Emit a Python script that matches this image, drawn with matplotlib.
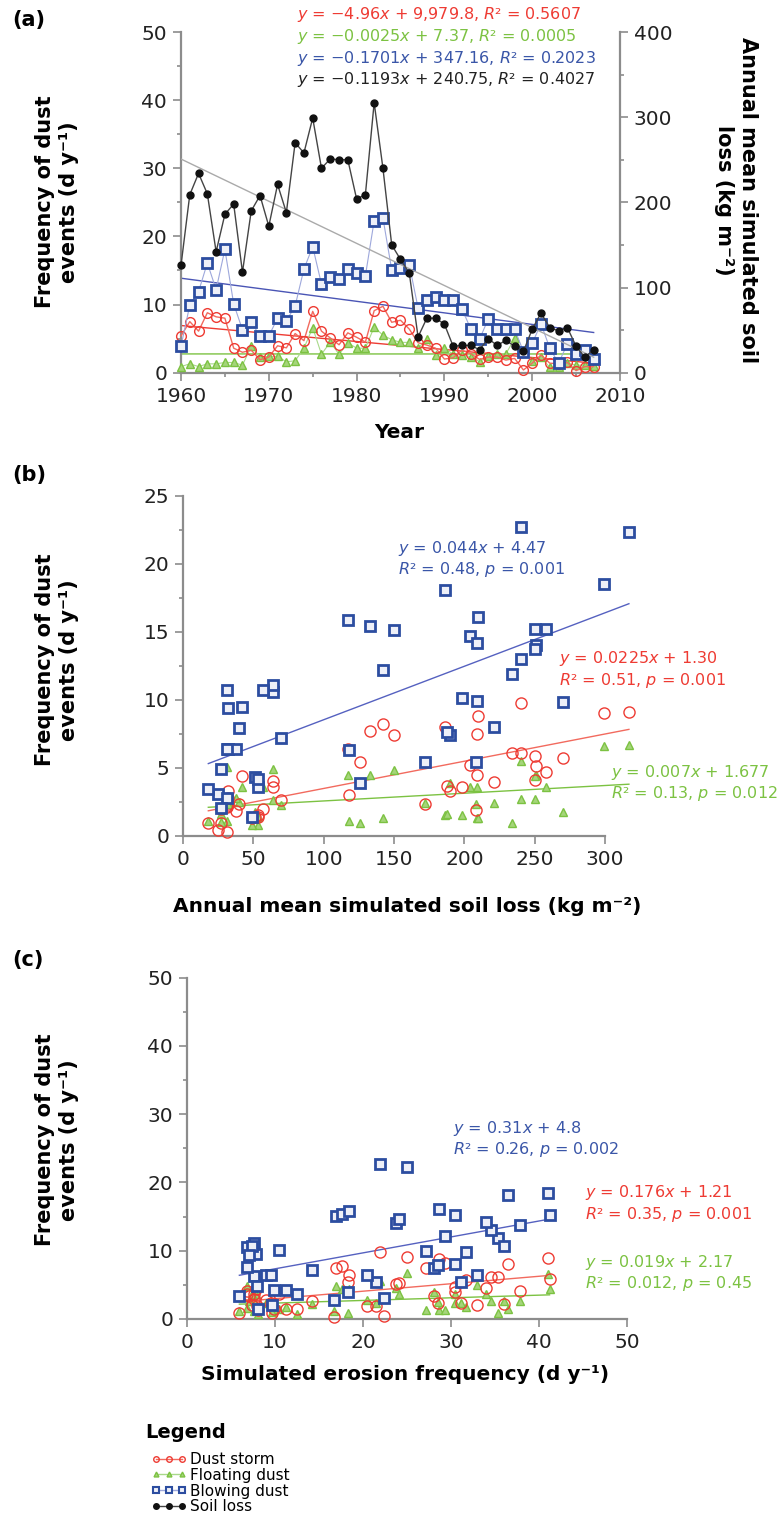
import numpy as np
import matplotlib
matplotlib.use("Agg")
import matplotlib.pyplot as plt
from matplotlib.lines import Line2D
from matplotlib.ticker import MultipleLocator

# ---------------- data ----------------
years = list(range(1960, 2008))
dust_storm = [5.4, 7.5, 6.1, 8.8, 8.2, 8.0, 3.6, 3.0, 3.3, 1.9, 2.3, 3.95, 3.65, 5.75, 4.7, 9.0,
              6.1, 5.1, 4.1, 5.85, 5.2, 4.5, 9.1, 9.75, 7.4, 7.7, 6.4, 4.4, 4.05, 3.6, 2.0, 2.2,
              3.3, 2.8, 1.95, 2.3, 2.3, 1.85, 2.1, 0.4, 1.4, 2.6, 1.4, 1.3, 1.5, 0.3, 0.9, 0.9]
floating_dust = [0.9, 1.3, 0.9, 1.3, 1.3, 1.5, 1.5, 1.1, 3.9, 2.3, 2.4, 2.4, 1.6, 1.75, 3.6, 6.6,
                 2.7, 4.5, 2.7, 4.4, 3.6, 3.6, 6.7, 5.5, 4.85, 4.45, 4.45, 3.6, 4.9, 2.6, 3.6, 2.7,
                 2.6, 2.35, 1.6, 2.5, 2.7, 2.75, 5.05, 3.1, 1.75, 2.25, 0.8, 0.8, 1.4, 1.1, 1.1, 1.0]
blowing_dust = [3.9, 9.9, 11.9, 16.1, 12.2, 18.1, 10.1, 6.3, 7.4, 5.4, 5.4, 8.0, 7.6, 9.8, 15.2, 18.5,
                13.0, 14.0, 13.7, 15.2, 14.7, 14.2, 22.3, 22.7, 15.1, 15.4, 15.85, 9.5, 10.6, 11.1, 10.7, 10.7,
                9.4, 6.4, 4.9, 7.9, 6.4, 6.4, 6.4, 3.1, 4.3, 7.2, 3.6, 1.4, 4.2, 2.8, 3.4, 2.05]
soil_loss = [126, 209, 234, 210, 142, 186, 198, 118, 190, 208, 172, 221, 188, 270, 258, 299,
             240, 251, 250, 250, 204, 209, 317, 240, 150, 133, 117, 42, 64, 64, 57, 31,
             32, 32, 27, 40, 32, 38, 31, 25, 51, 70, 53, 49, 53, 31, 18, 27]
erosion_freq = [18.3, 27.2, 35.3, 28.6, 29.3, 36.5, 10.4, 7.65, 28.1, 21.5, 31.1, 30.5, 6.8, 31.7, 30.4, 41.0,
                34.5, 23.8, 37.8, 41.2, 24.1, 34.0, 25.0, 21.9, 16.9, 17.6, 18.4, 7.85, 6.8, 7.6, 7.4, 36.0,
                7.1, 9.0, 8.0, 28.5, 9.5, 20.5, 33.0, 22.4, 11.2, 14.2, 12.5, 8.1, 9.9, 16.7, 5.95, 9.7]

series_names = ["Dust storm", "Floating dust", "Blowing dust", "Soil loss"]
eq_a = ["$y$ = \u22124.96$x$ + 9,979.8, $R$\u00b2 = 0.5607",
        "$y$ = \u22120.0025$x$ + 7.37, $R$\u00b2 = 0.0005",
        "$y$ = \u22120.1701$x$ + 347.16, $R$\u00b2 = 0.2023",
        "$y$ = \u22120.1193$x$ + 240.75, $R$\u00b2 = 0.4027"]
eq_b = [("$y$ = 0.044$x$ + 4.47", "$R$\u00b2 = 0.48, $p$ = 0.001"),
        ("$y$ = 0.0225$x$ + 1.30", "$R$\u00b2 = 0.51, $p$ = 0.001"),
        ("$y$ = 0.007$x$ + 1.677", "$R$\u00b2 = 0.13, $p$ = 0.012")]
eq_c = [("$y$ = 0.31$x$ + 4.8", "$R$\u00b2 = 0.26, $p$ = 0.002"),
        ("$y$ = 0.176$x$ + 1.21", "$R$\u00b2 = 0.35, $p$ = 0.001"),
        ("$y$ = 0.019$x$ + 2.17", "$R$\u00b2 = 0.012, $p$ = 0.45")]

# ---------------- style ----------------
plt.rcParams["font.family"] = ["DejaVu Sans"]
plt.rcParams["mathtext.fontset"] = "dejavusans"

RED = "#ee3b33"
RED_L = "#f26a5e"
GREEN = "#7cc242"
GREEN_L = "#a9d98a"
BLUE = "#2c4da0"
BLUE_L = "#9ea8dc"
BLUE_T = "#3a56a8"
BLACK = "#111111"
GRAY = "#8c8c8c"
TICK_FS = 14.5
LAB_FS = 15
XLAB_FS = 14.5
EQ_FS = 11.5

W, H = 781, 1520
fig = plt.figure(figsize=(W / 100, H / 100), dpi=100)


def ax_px(left, top, right, bottom):
    return fig.add_axes([left / W, 1 - bottom / H, (right - left) / W, (bottom - top) / H])


def fx(x):
    return x / W


def fy(y):
    return 1 - y / H


def style_axis(ax):
    for s in ["top", "right"]:
        ax.spines[s].set_visible(False)
    for s in ["left", "bottom"]:
        ax.spines[s].set_color(GRAY)
        ax.spines[s].set_linewidth(1.6)
    ax.tick_params(which="both", direction="out", color=GRAY, width=1.2, labelsize=TICK_FS,
                   labelcolor="#222222")
    ax.tick_params(which="major", length=6, pad=4)
    ax.tick_params(which="minor", length=3)


x_years = np.array(years, dtype=float)
ds = np.array(dust_storm)
fd = np.array(floating_dust)
bd = np.array(blowing_dust)
sl = np.array(soil_loss, dtype=float)
ef = np.array(erosion_freq)


def trend(ax, x, y, color, lw=1.0, z=2):
    k, b = np.polyfit(x, y, 1)
    xs = np.array([x.min(), x.max()])
    ax.plot(xs, k * xs + b, color=color, lw=lw, zorder=z, clip_on=False)


def bold_text(x, y, s, **kw):
    base = dict(fontsize=LAB_FS, fontweight="bold", ha="center", va="center")
    base.update(kw)
    fig.text(fx(x), fy(y), s, **base)


# ================= panel (a) =================
axa = ax_px(181, 32, 620, 372.7)
style_axis(axa)
axa.set_xlim(1960, 2010)
axa.set_ylim(0, 50)
axa.xaxis.set_major_locator(MultipleLocator(10))
axa.xaxis.set_minor_locator(MultipleLocator(5))
axa.yaxis.set_major_locator(MultipleLocator(10))
axa.yaxis.set_minor_locator(MultipleLocator(5))

trend(axa, x_years, ds, RED, 1.0)
trend(axa, x_years, fd, GREEN, 1.0)
trend(axa, x_years, bd, "#4a55b5", 1.0)

axa.plot(x_years, fd, "-", color=GREEN_L, lw=0.8, marker="^", ms=5.5, mfc="#a5d57a",
         mec=GREEN, mew=1.0, zorder=3, clip_on=False)
axa.plot(x_years, ds, "-", color=RED_L, lw=1.0, marker="o", ms=7, mfc="none",
         mec=RED, mew=1.0, zorder=4, clip_on=False)
axa.plot(x_years, bd, "-", color=BLUE_L, lw=0.8, marker="s", ms=6.5, mfc="#eef0f8",
         mec=BLUE, mew=2.0, zorder=5, clip_on=False)

axa2 = axa.twinx()
axa2.set_ylim(0, 400)
for s in ["top", "left", "bottom"]:
    axa2.spines[s].set_visible(False)
axa2.spines["right"].set_color(GRAY)
axa2.spines["right"].set_linewidth(1.6)
axa2.yaxis.set_major_locator(MultipleLocator(100))
axa2.yaxis.set_minor_locator(MultipleLocator(50))
axa2.tick_params(which="both", direction="out", color=GRAY, width=1.2, labelsize=TICK_FS,
                 labelcolor="#222222")
axa2.tick_params(which="major", length=6, pad=4)
axa2.tick_params(which="minor", length=3)
k, b = np.polyfit(x_years, sl, 1)
xs = np.array([x_years.min(), x_years.max()])
axa2.plot(xs, k * xs + b, color="#aaaaaa", lw=1.0, zorder=1)
axa2.plot(x_years, sl, "-", color="#444444", lw=1.0, marker="o", ms=5, mfc=BLACK,
          mec=BLACK, zorder=6, clip_on=False)

eq_colors = [RED, GREEN, BLUE_T, "#222222"]
for i, (t, c) in enumerate(zip(eq_a, eq_colors)):
    fig.text(fx(297), fy(15 + 21.5 * i), t, color=c, fontsize=EQ_FS, ha="left", va="center")

bold_text(12, 20, "(a)", fontsize=15, ha="left")
bold_text(57, 202, "Frequency of dust\nevents (d y\u207b\u00b9)", rotation=90,
          multialignment="center", linespacing=1.2)
bold_text(736, 200, "Annual mean simulated soil\nloss (kg m\u207b\u00b2)", rotation=270,
          multialignment="center", linespacing=1.2)
bold_text(399, 433, "Year", fontsize=XLAB_FS)

# ================= panel (b) =================
axb = ax_px(183, 495.7, 605, 835.7)
style_axis(axb)
axb.set_xlim(0, 300)
axb.set_ylim(0, 25)
axb.xaxis.set_major_locator(MultipleLocator(50))
axb.yaxis.set_major_locator(MultipleLocator(5))
axb.yaxis.set_minor_locator(MultipleLocator(2.5))

trend(axb, sl, bd, "#5561c0", 1.0)
trend(axb, sl, ds, RED_L, 1.0)
trend(axb, sl, fd, GREEN, 1.0)
axb.plot(sl, fd, ls="none", marker="^", ms=5.5, mfc="#a5d57a", mec=GREEN, mew=1.0,
         zorder=3, clip_on=False)
axb.plot(sl, ds, ls="none", marker="o", ms=8, mfc="none", mec=RED, mew=1.0,
         zorder=4, clip_on=False)
axb.plot(sl, bd, ls="none", marker="s", ms=7, mfc="#eef0f8", mec=BLUE, mew=2.0,
         zorder=5, clip_on=False)

for (l1, l2), c, (x0, y0) in zip(eq_b, [BLUE_T, RED, GREEN], [(398, 548), (559, 659), (611, 772)]):
    fig.text(fx(x0), fy(y0), l1, color=c, fontsize=EQ_FS, ha="left", va="center")
    fig.text(fx(x0), fy(y0 + 21.5), l2, color=c, fontsize=EQ_FS, ha="left", va="center")

bold_text(12, 475, "(b)", fontsize=15, ha="left")
bold_text(57, 660, "Frequency of dust\nevents (d y\u207b\u00b9)", rotation=90,
          multialignment="center", linespacing=1.2)
bold_text(407, 906, "Annual mean simulated soil loss (kg m\u207b\u00b2)", fontsize=XLAB_FS)

# ================= panel (c) =================
axc = ax_px(187, 977.5, 627, 1319)
style_axis(axc)
axc.set_xlim(0, 50)
axc.set_ylim(0, 50)
axc.xaxis.set_major_locator(MultipleLocator(10))
axc.yaxis.set_major_locator(MultipleLocator(10))
axc.yaxis.set_minor_locator(MultipleLocator(5))

trend(axc, ef, bd, "#5561c0", 1.0)
trend(axc, ef, ds, RED_L, 1.0)
trend(axc, ef, fd, GREEN, 1.0)
axc.plot(ef, fd, ls="none", marker="^", ms=5.5, mfc="#a5d57a", mec=GREEN, mew=1.0,
         zorder=3, clip_on=False)
axc.plot(ef, ds, ls="none", marker="o", ms=8, mfc="none", mec=RED, mew=1.0,
         zorder=4, clip_on=False)
axc.plot(ef, bd, ls="none", marker="s", ms=7, mfc="#eef0f8", mec=BLUE, mew=2.0,
         zorder=5, clip_on=False)

for (l1, l2), c, (x0, y0) in zip(eq_c, [BLUE_T, RED, GREEN], [(453, 1128), (585, 1193), (585, 1262)]):
    fig.text(fx(x0), fy(y0), l1, color=c, fontsize=EQ_FS, ha="left", va="center")
    fig.text(fx(x0), fy(y0 + 21.5), l2, color=c, fontsize=EQ_FS, ha="left", va="center")

bold_text(12, 960, "(c)", fontsize=15, ha="left")
bold_text(57, 1140, "Frequency of dust\nevents (d y\u207b\u00b9)", rotation=90,
          multialignment="center", linespacing=1.2)
bold_text(405, 1375, "Simulated erosion frequency (d y\u207b\u00b9)", fontsize=XLAB_FS)

# ================= legend =================
bold_text(145, 1432, "Legend", fontsize=14, ha="left")
handles = [
    Line2D([], [], color=RED_L, lw=1.0, marker="o", ms=4, mfc="none", mec=RED, mew=1.0),
    Line2D([], [], color=GREEN_L, lw=1.0, marker="^", ms=3.5, mfc="#a5d57a", mec=GREEN),
    Line2D([], [], color=BLUE_L, lw=1.0, marker="s", ms=4, mfc="#eef0f8", mec=BLUE, mew=1.5),
    Line2D([], [], color="#444444", lw=1.0, marker="o", ms=4, mfc=BLACK, mec=BLACK),
]
fig.legend(handles, series_names, loc="upper left", bbox_to_anchor=(fx(151), fy(1452)),
           frameon=False, numpoints=3, handlelength=2.3, handletextpad=0.25,
           labelspacing=0.05, fontsize=11, borderpad=0, borderaxespad=0)

fig.savefig("out.png", dpi=100)
